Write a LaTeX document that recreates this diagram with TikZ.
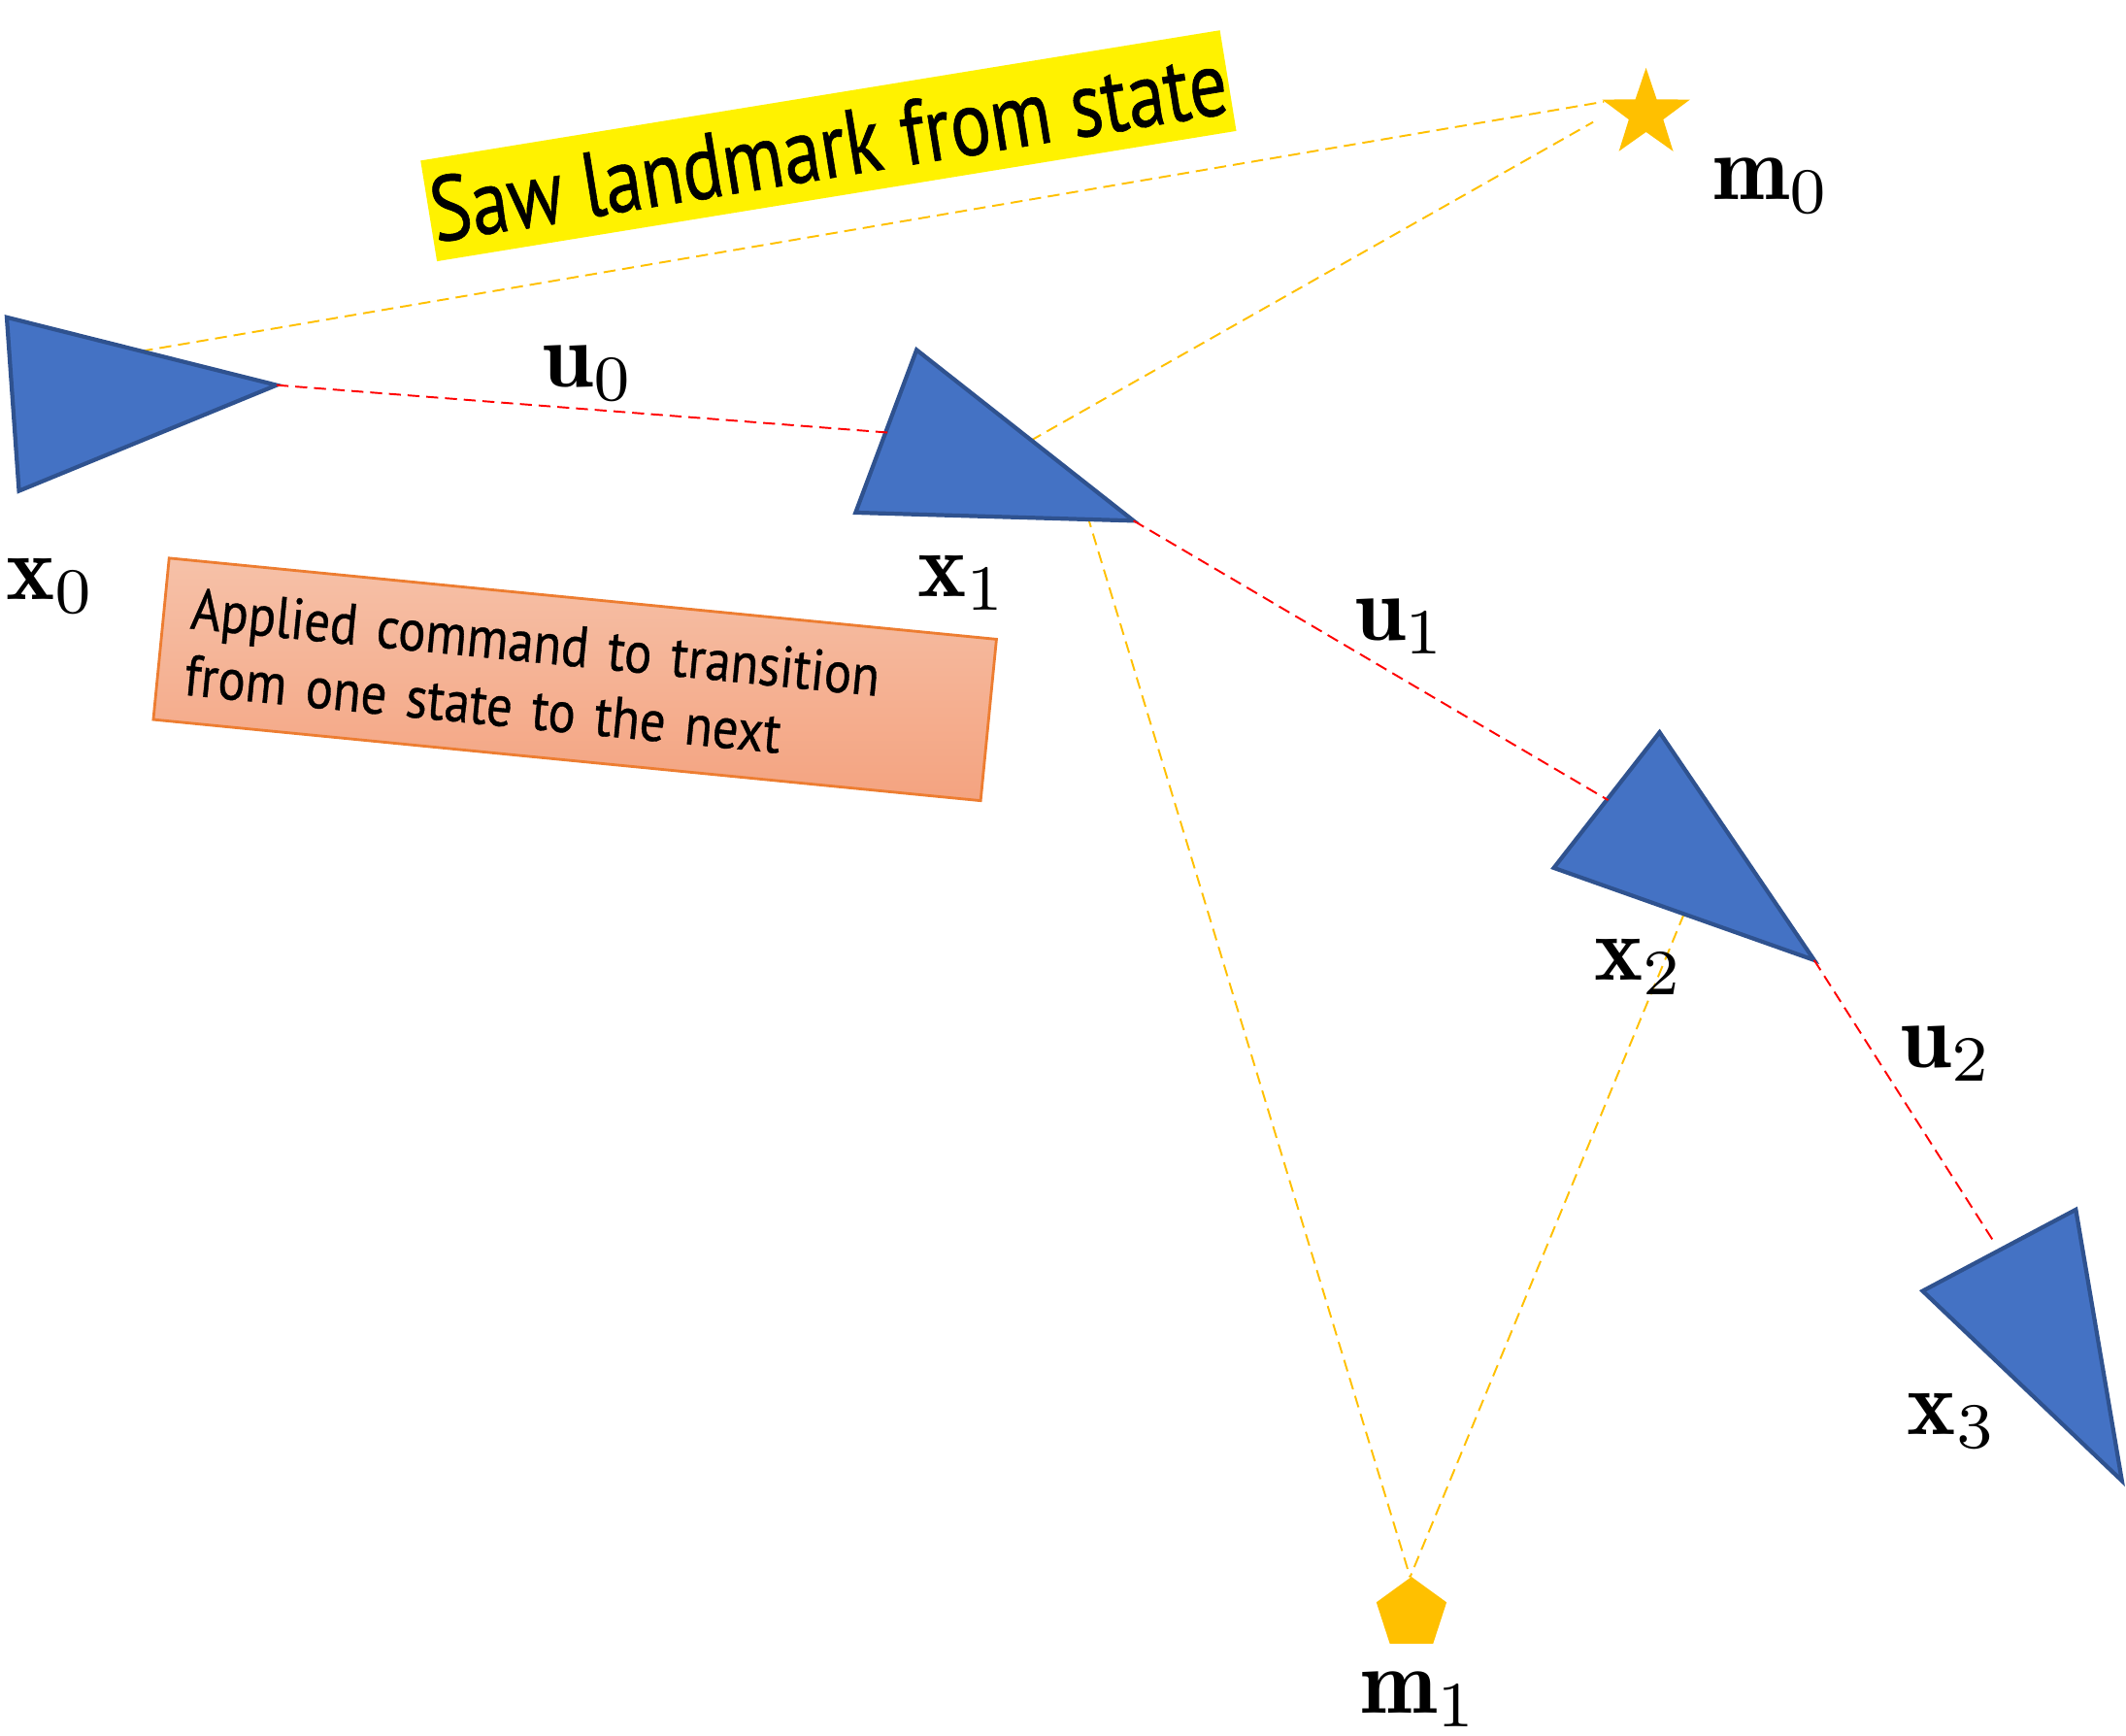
\documentclass[tikz,border=0pt]{standalone}
\usepackage{fontspec}
\newfontfamily\gillA[FakeStretch=0.82,FakeBold=0.6]{PT Sans}
\newfontfamily\gillB[FakeStretch=0.88,FakeBold=0.6]{PT Sans}
\usetikzlibrary{shapes.geometric}
\definecolor{triblue}{HTML}{4472C4}
\definecolor{triedge}{HTML}{2F528F}
\definecolor{lmgold}{HTML}{FFC000}
\definecolor{boxedge}{HTML}{ED7D31}
\definecolor{boxtop}{HTML}{F6C1A8}
\definecolor{boxbot}{HTML}{F4A380}
\newcommand\biglabel[1]{\scalebox{2.7}{$#1$}}
\tikzset{
  robot/.style={fill=triblue, draw=triedge, line width=1.2pt, line join=miter},
  ctrl/.style={draw=red, line width=0.55pt, dash pattern=on 3.5pt off 2pt},
  obs/.style={draw=lmgold, line width=0.55pt, dash pattern=on 3.5pt off 2pt},
  lbl/.style={inner sep=0pt},
}
\begin{document}
\begin{tikzpicture}[x=0.0139668cm, y=-0.0139668cm]
\useasboundingbox (0,0) rectangle (1568,1279.5);

% robot poses (triangles)
\coordinate (a0) at (5,234);   \coordinate (x0tip) at (204,284); \coordinate (c0) at (14,362);
\coordinate (a1) at (676,258); \coordinate (x1tip) at (836,384); \coordinate (c1) at (631,378);
\coordinate (a2) at (1224,540); \coordinate (x2tip) at (1338,708); \coordinate (c2) at (1146,640);
\coordinate (a3) at (1531,892); \coordinate (x3tip) at (1565,1092); \coordinate (c3) at (1418,952);

% connector end points on triangle edges
\coordinate (x0obs) at (104,259);
\coordinate (x1in) at (655,319);
\coordinate (x1obsA) at (760,325);
\coordinate (x1obsB) at (798,367);
\coordinate (x2in) at (1186,590);
\coordinate (x2obs) at (1242,674);
\coordinate (x3in) at (1472,918);

% landmarks
\node[star, star points=5, star point ratio=2.55, fill=lmgold, inner sep=0pt,
      minimum size=0.95cm] (m0) at (1214,84) {};
\node[regular polygon, regular polygon sides=5, fill=lmgold, inner sep=0pt,
      minimum size=0.76cm] (m1) at (1041,1190) {};
\coordinate (m0a) at (1183,75);
\coordinate (m0b) at (1175,90);
\coordinate (m1t) at (1040,1163);

% text boxes
\node[rotate=9.26, fill=yellow, minimum width=8.34cm, minimum height=1.05cm,
      inner sep=0pt, font=\gillA\fontsize{27}{30}\selectfont] (saw) at (611,107.5)
      {Saw landmark from state};
\node[rotate=-5.6, draw=boxedge, line width=0.8pt, top color=boxtop, bottom color=boxbot,
      minimum width=8.56cm, minimum height=1.67cm, text width=8.0cm, align=left,
      inner xsep=0.28cm, inner ysep=0.15cm, font=\gillB\fontsize{17}{19.5}\selectfont] (cmd) at (424,501)
      {Applied command to transition\\from one state to the next};

% observation lines
\draw[obs] (x0obs) -- (m0a);
\draw[obs] (x1obsA) -- (m0b);
\draw[obs] (x1obsB) -- (m1t);
\draw[obs] (x2obs) -- (m1t);

% triangles
\draw[robot] (a0) -- (x0tip) -- (c0) -- cycle;
\draw[robot] (a1) -- (x1tip) -- (c1) -- cycle;
\draw[robot] (a2) -- (x2tip) -- (c2) -- cycle;
\draw[robot] (a3) -- (x3tip) -- (c3) -- cycle;

% control lines
\draw[ctrl] (x0tip) -- (x1in);
\draw[ctrl] (x1tip) -- (x2in);
\draw[ctrl] (x2tip) -- (x3in);

% labels
\node[lbl] (lx0) at (38,432) {\biglabel{\mathbf{x}_0}};
\node[lbl] (lx1) at (710,430) {\biglabel{\mathbf{x}_1}};
\node[lbl] (lx2) at (1209,713) {\biglabel{\mathbf{x}_2}};
\node[lbl] (lx3) at (1440,1048) {\biglabel{\mathbf{x}_3}};
\node[lbl] (lu0) at (434,275) {\biglabel{\mathbf{u}_0}};
\node[lbl] (lu1) at (1033,462) {\biglabel{\mathbf{u}_1}};
\node[lbl] (lu2) at (1436,777) {\biglabel{\mathbf{u}_2}};
\node[lbl] (lm0) at (1307,137) {\biglabel{\mathbf{m}_0}};
\node[lbl] (lm1) at (1047,1253) {\biglabel{\mathbf{m}_1}};
\end{tikzpicture}
\end{document}
